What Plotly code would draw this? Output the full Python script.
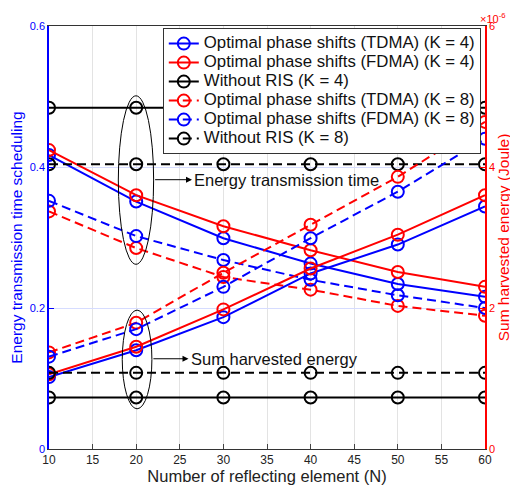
import plotly.graph_objects as go

N = [10, 20, 30, 40, 50, 60]

# Energy transmission time scheduling (left axis)
time_tdma_k4 = [0.417, 0.351, 0.299, 0.263, 0.234, 0.216]
time_fdma_k4 = [0.424, 0.360, 0.316, 0.282, 0.251, 0.230]
time_noris_k4 = [0.484, 0.484, 0.484, 0.484, 0.484, 0.484]
time_tdma_k8 = [0.337, 0.285, 0.244, 0.226, 0.203, 0.189]
time_fdma_k8 = [0.352, 0.302, 0.268, 0.240, 0.218, 0.200]
time_noris_k8 = [0.404, 0.404, 0.404, 0.404, 0.404, 0.404]

# Sum harvested energy (right axis, x 1e-6 Joule)
en_tdma_k4 = [1.02, 1.40, 1.87, 2.49, 2.90, 3.44]
en_fdma_k4 = [1.06, 1.45, 1.98, 2.56, 3.04, 3.60]
en_noris_k4 = [0.73, 0.73, 0.73, 0.73, 0.73, 0.73]
en_tdma_k8 = [1.37, 1.79, 2.50, 3.18, 3.86, 4.64]
en_fdma_k8 = [1.31, 1.70, 2.30, 2.99, 3.65, 4.40]
en_noris_k8 = [1.08, 1.08, 1.08, 1.08, 1.08, 1.08]

x_ticks = [10, 15, 20, 25, 30, 35, 40, 45, 50, 55, 60]
left_ticks = [0, 0.2, 0.4, 0.6]
right_ticks = [0, 2, 4, 6]

BLUE = "#0000ff"
RED = "#ff0000"
BLACK = "#000000"
DASH = "9px,5px"

series = [
    ("Optimal phase shifts (TDMA) (K = 4)", time_tdma_k4, en_tdma_k4, BLUE, "solid"),
    ("Optimal phase shifts (FDMA) (K = 4)", time_fdma_k4, en_fdma_k4, RED, "solid"),
    ("Without RIS (K = 4)", time_noris_k4, en_noris_k4, BLACK, "solid"),
    ("Optimal phase shifts (TDMA) (K = 8)", time_tdma_k8, en_tdma_k8, RED, DASH),
    ("Optimal phase shifts (FDMA) (K = 8)", time_fdma_k8, en_fdma_k8, BLUE, DASH),
    ("Without RIS (K = 8)", time_noris_k8, en_noris_k8, BLACK, DASH),
]

fig = go.Figure()
for i, (name, t, e, c, d) in enumerate(series):
    mk = dict(symbol="circle-open", size=12, color=c, line=dict(width=2, color=c))
    label = "<span style='font-size:16.8px'>" + name + "</span>"
    fig.add_trace(go.Scatter(x=N, y=t, name=label, legendgroup=str(i), mode="lines+markers",
                             line=dict(color=c, width=2, dash=d), marker=mk, yaxis="y"))
    fig.add_trace(go.Scatter(x=N, y=e, name=name, legendgroup=str(i), showlegend=False,
                             mode="lines+markers", line=dict(color=c, width=2, dash=d),
                             marker=mk, yaxis="y2"))

FONT = "Liberation Sans, Arial, sans-serif"

# page body has an 8px margin, so the figure is sized 8px smaller each way
fig.update_layout(
    width=510, height=479,
    margin=dict(l=41, r=33, t=18, b=38),
    paper_bgcolor="white", plot_bgcolor="white",
    font=dict(family=FONT, color="#222222"),
    xaxis=dict(range=[10, 60], tickvals=x_ticks, ticks="inside", ticklen=5, automargin=False,
               tickfont=dict(size=12, color="#222222"), showgrid=True, gridcolor="#e3e3e3",
               showline=True, linecolor="#333333", linewidth=1, mirror=True, zeroline=False,
               title=dict(text="Number of reflecting element (N)", font=dict(size=16.5, color="#222222"),
                          standoff=1)),
    yaxis=dict(range=[0, 0.6], tickvals=left_ticks, ticktext=["0", "0.2", "0.4", "0.6"],
               ticks="inside", ticklen=5, tickcolor=BLUE, automargin=False,
               tickfont=dict(size=11, color=BLUE), showgrid=True, gridcolor="#d6dcff",
               showline=True, linecolor=BLUE, linewidth=1.5, zeroline=False,
               title=dict(text="Energy transmission time scheduling", font=dict(size=15.5, color=BLUE),
                          standoff=6)),
    yaxis2=dict(range=[0, 6], tickvals=right_ticks, overlaying="y", side="right",
                ticks="inside", ticklen=5, tickcolor=RED, automargin=False,
                tickfont=dict(size=11, color=RED), showgrid=False,
                showline=True, linecolor=RED, linewidth=1.5, zeroline=False,
                title=dict(text="Sum harvested energy (Joule)", font=dict(size=15.5, color=RED),
                           standoff=2)),
    legend=dict(x=0.261, y=0.995, xanchor="left", yanchor="top", bgcolor="white",
                bordercolor="#333333", borderwidth=1, font=dict(size=12, color="#111111"),
                tracegroupgap=0, itemwidth=30),
    showlegend=True,
)

# Ellipses marking the two groups at N = 20
fig.add_shape(type="circle", xref="x", yref="y", x0=17.95, x1=22.0, y0=0.262, y1=0.501,
              line=dict(color="black", width=1))
fig.add_shape(type="circle", xref="x", yref="y", x0=18.4, x1=21.8, y0=0.057, y1=0.197,
              line=dict(color="black", width=1))

fig.add_annotation(x=26.4, y=0.382, ax=22.0, ay=0.382, xref="x", yref="y", axref="x", ayref="y",
                   text="", showarrow=True, arrowhead=2, arrowsize=1.2, arrowwidth=1, arrowcolor="black")
fig.add_annotation(x=26.4, y=0.382, xref="x", yref="y", text="Energy transmission time",
                   showarrow=False, xanchor="left", font=dict(size=16.5, color="#111111"))
fig.add_annotation(x=26.0, y=0.128, ax=21.8, ay=0.128, xref="x", yref="y", axref="x", ayref="y",
                   text="", showarrow=True, arrowhead=2, arrowsize=1.2, arrowwidth=1, arrowcolor="black")
fig.add_annotation(x=26.0, y=0.128, xref="x", yref="y", text="Sum harvested energy",
                   showarrow=False, xanchor="left", font=dict(size=16.5, color="#111111"))

fig.add_annotation(x=1.0, y=1.0, xref="paper", yref="paper", xanchor="left", yanchor="bottom",
                   text="×10<sup>-6</sup>", showarrow=False, xshift=-7, yshift=-1,
                   font=dict(size=11, color=RED))

fig.write_html("out.html")
